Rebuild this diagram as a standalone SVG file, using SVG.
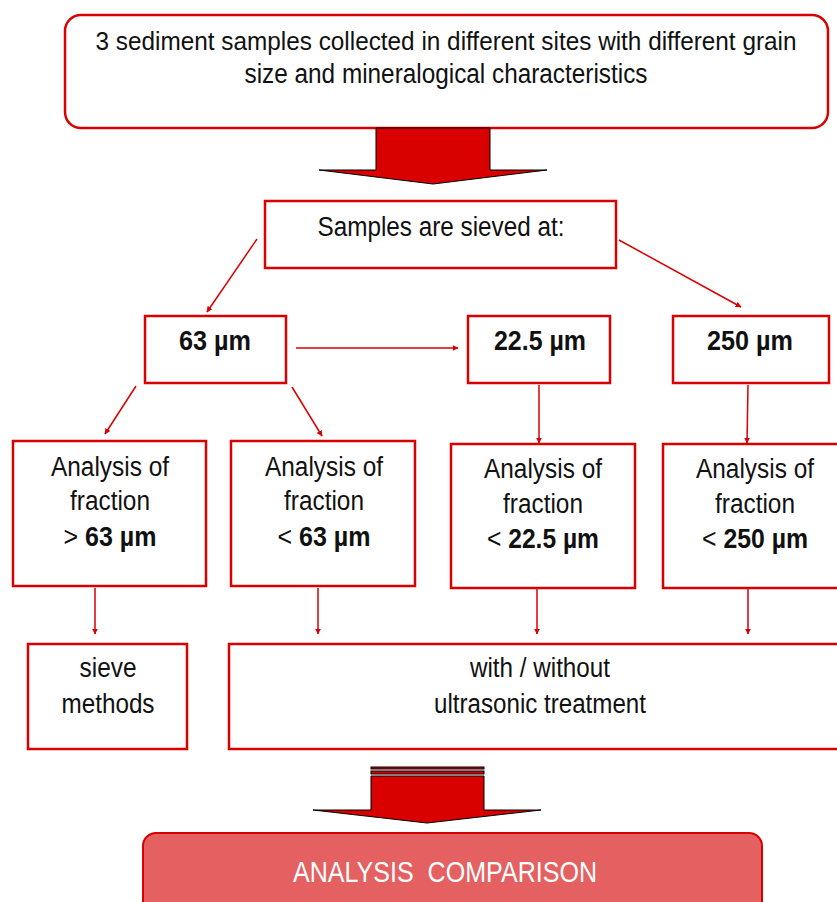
<svg xmlns="http://www.w3.org/2000/svg" width="837" height="902" viewBox="0 0 837 902">
<defs>
<style>
.box{fill:#fff;stroke:#d90000;stroke-width:2.5}
.t{font-family:"Liberation Sans",Arial,sans-serif;font-size:27px;fill:#111;text-anchor:middle}
.b{font-weight:bold}
.c{stroke:#d90000;stroke-width:1.5;fill:none;marker-end:url(#ah)}
.big{fill:#d90000;stroke:#000;stroke-width:1}
</style>
<marker id="ah" viewBox="0 0 10 10" refX="9" refY="5" markerWidth="6" markerHeight="6" orient="auto" markerUnits="userSpaceOnUse"><path d="M0,0 L10,5 L0,10 z" fill="#d90000"/></marker>
</defs>
<g id="top">
<rect class="box" x="65" y="15" width="763" height="113" rx="16"/>
<text class="t" x="446" y="50" style="font-size:25.5px" textLength="701" lengthAdjust="spacingAndGlyphs">3 sediment samples collected in different sites with different grain</text>
<text class="t" x="446" y="83" textLength="403" lengthAdjust="spacingAndGlyphs">size and mineralogical characteristics</text>
</g>
<g id="bigarrow1">
<path class="big" d="M376,128 L490,128 L490,170 L547,170 L433,184 L319,170 L376,170 Z"/>
</g>
<g id="sieved">
<rect class="box" x="265" y="201" width="351" height="67"/>
<text class="t" x="441" y="236" textLength="247" lengthAdjust="spacingAndGlyphs">Samples are sieved at:</text>
</g>
<g id="n63">
<rect class="box" x="145" y="316" width="141" height="67"/>
<text class="t b" x="215" y="350" textLength="72" lengthAdjust="spacingAndGlyphs">63 µm</text>
</g>
<g id="n225">
<rect class="box" x="468" y="316" width="142" height="67"/>
<text class="t b" x="540" y="350" textLength="92" lengthAdjust="spacingAndGlyphs">22.5 µm</text>
</g>
<g id="n250">
<rect class="box" x="673" y="316" width="156" height="67"/>
<text class="t b" x="750" y="350" textLength="86" lengthAdjust="spacingAndGlyphs">250 µm</text>
</g>
<g id="a1">
<rect class="box" x="13" y="441" width="193" height="145"/>
<text class="t" x="110" y="476" textLength="118" lengthAdjust="spacingAndGlyphs">Analysis of</text>
<text class="t" x="110" y="510" textLength="80" lengthAdjust="spacingAndGlyphs">fraction</text>
<text class="t" x="110" y="546" textLength="93" lengthAdjust="spacingAndGlyphs">&gt; <tspan class="b">63 µm</tspan></text>
</g>
<g id="a2">
<rect class="box" x="231" y="441" width="184" height="145"/>
<text class="t" x="324" y="476" textLength="118" lengthAdjust="spacingAndGlyphs">Analysis of</text>
<text class="t" x="324" y="510" textLength="80" lengthAdjust="spacingAndGlyphs">fraction</text>
<text class="t" x="324" y="546" textLength="93" lengthAdjust="spacingAndGlyphs">&lt; <tspan class="b">63 µm</tspan></text>
</g>
<g id="a3">
<rect class="box" x="451" y="444" width="184" height="144"/>
<text class="t" x="543" y="478" textLength="118" lengthAdjust="spacingAndGlyphs">Analysis of</text>
<text class="t" x="543" y="513" textLength="80" lengthAdjust="spacingAndGlyphs">fraction</text>
<text class="t" x="543" y="548" textLength="112" lengthAdjust="spacingAndGlyphs">&lt; <tspan class="b">22.5 µm</tspan></text>
</g>
<g id="a4">
<rect class="box" x="663" y="444" width="180" height="144"/>
<text class="t" x="755" y="478" textLength="118" lengthAdjust="spacingAndGlyphs">Analysis of</text>
<text class="t" x="755" y="513" textLength="80" lengthAdjust="spacingAndGlyphs">fraction</text>
<text class="t" x="755" y="548" textLength="106" lengthAdjust="spacingAndGlyphs">&lt; <tspan class="b">250 µm</tspan></text>
</g>
<g id="sieve">
<rect class="box" x="28" y="644" width="159" height="105"/>
<text class="t" x="108" y="677" textLength="57" lengthAdjust="spacingAndGlyphs">sieve</text>
<text class="t" x="108" y="713" textLength="93" lengthAdjust="spacingAndGlyphs">methods</text>
</g>
<g id="ultra">
<rect class="box" x="229" y="644" width="620" height="105"/>
<text class="t" x="540" y="677" textLength="140" lengthAdjust="spacingAndGlyphs">with / without</text>
<text class="t" x="540" y="713" textLength="212" lengthAdjust="spacingAndGlyphs">ultrasonic treatment</text>
</g>
<g id="bigarrow2">
<rect class="big" x="371" y="767" width="113" height="2" stroke-width="0.8"/>
<rect class="big" x="371" y="771" width="113" height="3" stroke-width="0.8"/>
<path class="big" d="M371,776 L484,776 L484,810 L541,810 L427,823 L313,810 L371,810 Z"/>
</g>
<g id="compare">
<rect x="143" y="833" width="619" height="90" rx="13" fill="#e56060" stroke="#d90000" stroke-width="2"/>
<text class="t" x="445" y="882" xml:space="preserve" style="fill:#fff;font-size:29px" textLength="304" lengthAdjust="spacingAndGlyphs">ANALYSIS  COMPARISON</text>
</g>
<g id="connectors">
<line class="c" x1="257" y1="239" x2="207" y2="312"/>
<line class="c" x1="619" y1="240" x2="741" y2="307"/>
<line class="c" x1="296" y1="348" x2="458" y2="348"/>
<line class="c" x1="136" y1="386" x2="105" y2="434"/>
<line class="c" x1="292" y1="387" x2="322" y2="436"/>
<line class="c" x1="539" y1="385" x2="539" y2="443"/>
<line class="c" x1="748" y1="385" x2="747" y2="443"/>
<line class="c" x1="95" y1="588" x2="95" y2="634"/>
<line class="c" x1="318" y1="588" x2="318" y2="634"/>
<line class="c" x1="537" y1="588" x2="537" y2="634"/>
<line class="c" x1="748" y1="588" x2="748" y2="634"/>
</g>
</svg>
